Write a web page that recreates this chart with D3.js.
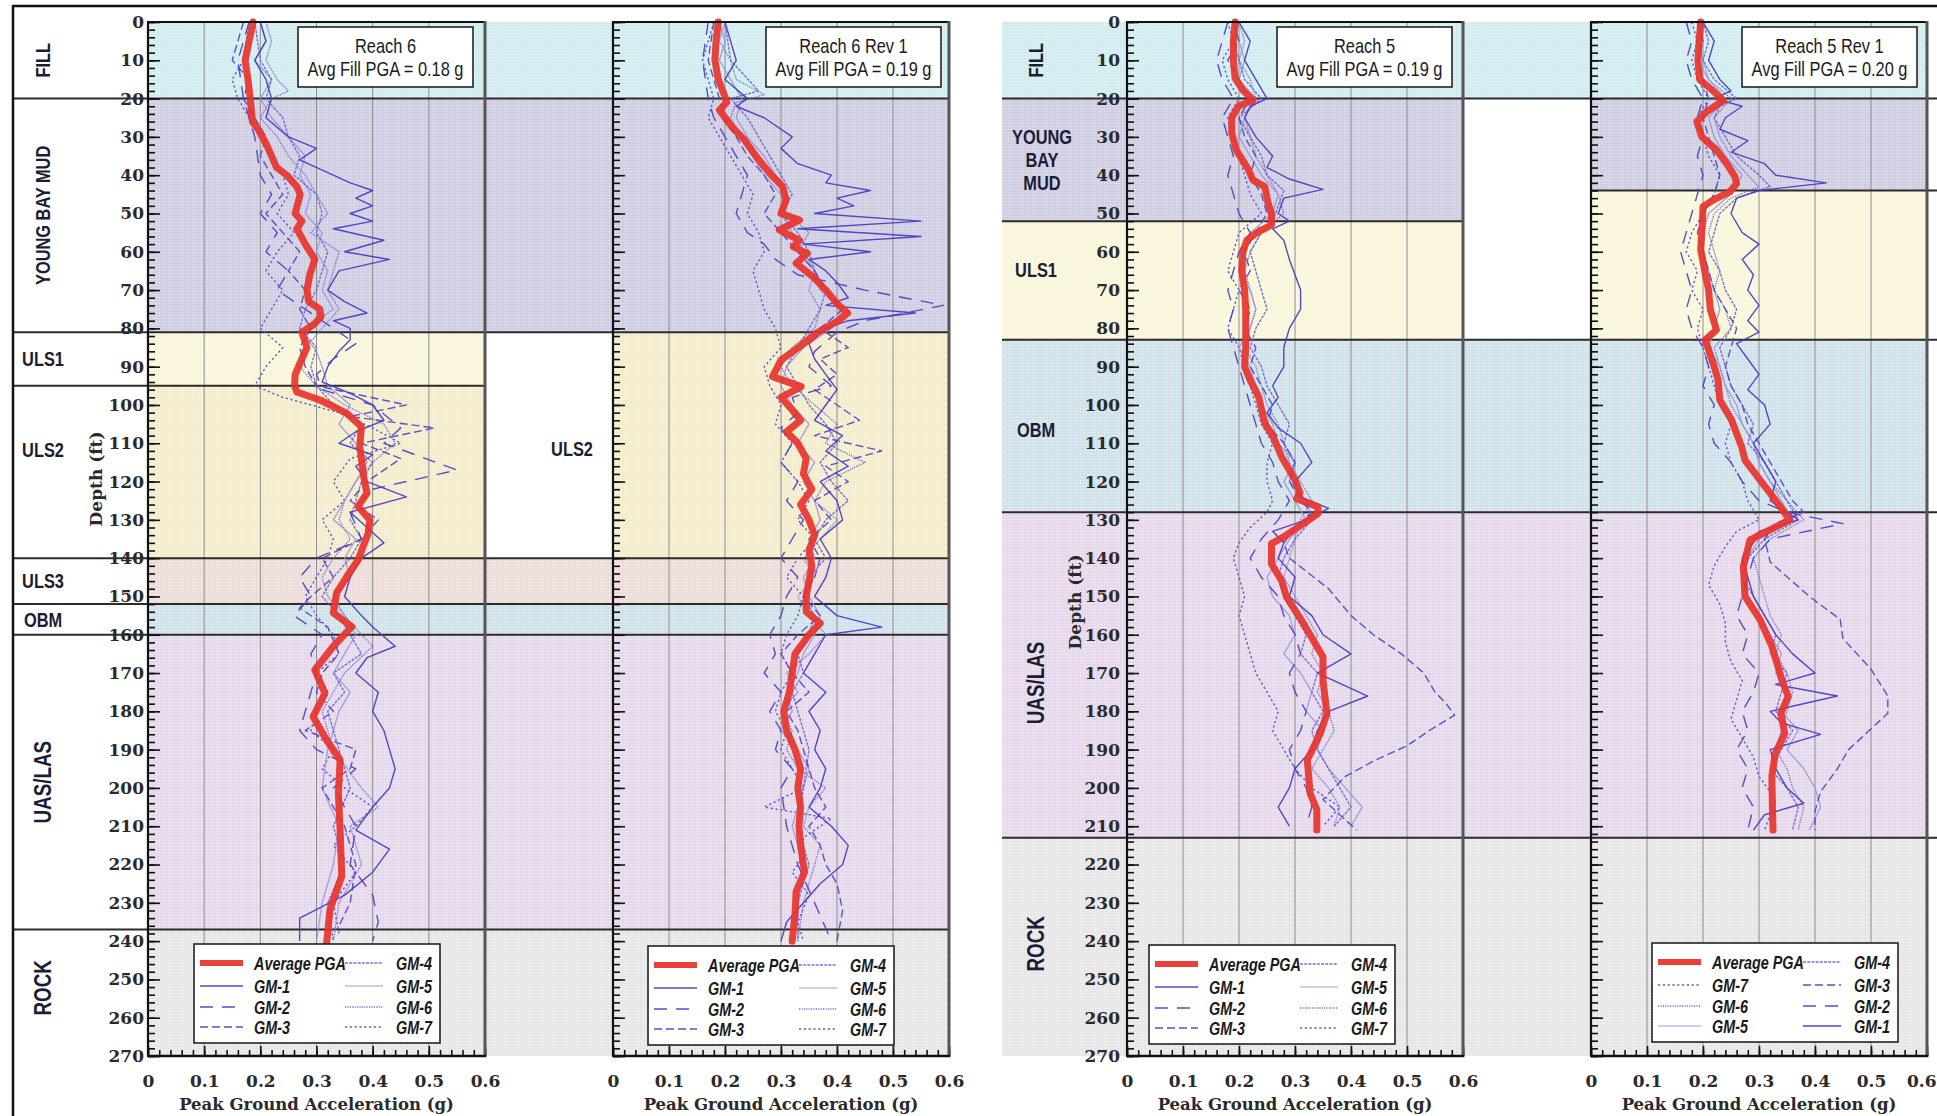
<!DOCTYPE html>
<html>
<head>
<meta charset="utf-8">
<script src="https://cdn.jsdelivr.net/npm/d3@7"></script>
<style>
  html, body { margin: 0; padding: 0; background: #ffffff; }
  svg { display: block; }
</style>
</head>
<body>
<svg id="chart" width="1937" height="1116"></svg>
<script>
// ---------------------------------------------------------------------------
// Data: PGA (g) versus depth (ft), [depth, pga] pairs
// ---------------------------------------------------------------------------
const seriesNames = ['Average PGA', 'GM-1', 'GM-2', 'GM-3', 'GM-4', 'GM-5', 'GM-6', 'GM-7'];
const panelTitles = ['Reach 6', 'Reach 6 Rev 1', 'Reach 5', 'Reach 5 Rev 1'];
const avgFillPga = [0.18, 0.19, 0.19, 0.20];
const depthTicksMajor = d3.range(0, 271, 10);
const depthTicksMinor = d3.range(0, 271, 2);
const pgaTicks = [0, 0.1, 0.2, 0.3, 0.4, 0.5, 0.6];
const pgaTicksMinor = d3.range(0, 0.6001, 0.02);

// Soil layers: [name, top depth, bottom depth]
const reach6Layers = [['FILL', 0, 20], ['YOUNG BAY MUD', 20, 81], ['ULS1', 81, 95], ['ULS2', 95, 140],
  ['ULS3', 140, 152], ['OBM', 152, 160], ['UAS/LAS', 160, 237], ['ROCK', 237, 270]];
const reach6Rev1Layers = [['FILL', 0, 20], ['YOUNG BAY MUD', 20, 81], ['ULS2', 81, 140],
  ['ULS3', 140, 152], ['OBM', 152, 160], ['UAS/LAS', 160, 237], ['ROCK', 237, 270]];
const reach5Layers = [['FILL', 0, 20], ['YOUNG BAY MUD', 20, 52], ['ULS1', 52, 83], ['OBM', 83, 128],
  ['UAS/LAS', 128, 213], ['ROCK', 213, 270]];
const reach5Rev1Layers = [['FILL', 0, 20], ['YOUNG BAY MUD', 20, 44], ['ULS1', 44, 83], ['OBM', 83, 128],
  ['UAS/LAS', 128, 213], ['ROCK', 213, 270]];

// Reach 6
const reach6Avg = [[0,.187],[5,.18],[10,.173],[15,.178],[20,.182],[26,.186],[28,.196],[32,.211],[35,.22],[38,.229],[40,.247],[43,.265],[45,.271],[50,.262],[52,.274],[54,.265],[58,.28],[62,.297],[66,.288],[70,.283],[73,.286],[75,.306],[77,.308],[79,.295],[81,.274],[85,.283],[88,.274],[92,.262],[95,.261],[96.6,.265],[98.7,.306],[100.4,.33],[102.2,.354],[105.7,.38],[110.9,.377],[119.6,.385],[123,.39],[126.5,.374],[130,.395],[133.5,.392],[140.5,.374],[144.8,.354],[149,.336],[154.3,.33],[157.9,.363],[163,.33],[169.2,.297],[175.3,.315],[181.4,.294],[187.5,.318],[192.7,.342],[201.4,.339],[211,.342],[223,.345],[231.8,.324],[240.5,.318]];
const reach6Gm1 = [[0,.2],[5,.21],[10,.19],[15,.21],[20,.22],[25,.21],[30,.25],[33,.3],[36,.27],[40,.33],[42,.36],[44,.4],[46,.37],[48,.4],[50,.36],[52,.4],[54,.33],[57,.42],[60,.35],[62,.43],[65,.34],[70,.32],[73,.35],[76,.39],[78,.33],[80,.36],[83,.36],[86,.34],[90,.32],[94,.31],[97,.36],[100,.4],[104,.42],[107,.37],[110,.34],[113,.4],[116,.37],[120,.39],[124,.46],[128,.36],[132,.39],[136,.42],[140,.38],[145,.36],[150,.35],[155,.38],[158,.4],[163,.44],[166,.39],[170,.37],[175,.41],[180,.4],[185,.42],[190,.43],[195,.44],[200,.43],[205,.4],[211,.37],[216,.43],[222,.4],[228,.35],[234,.27],[240,.27]];
const reach6Gm2 = [[0,.18],[10,.16],[20,.17],[30,.19],[40,.2],[45,.22],[50,.2],[55,.23],[60,.21],[65,.25],[70,.23],[75,.28],[80,.33],[84,.37],[88,.33],[92,.3],[96,.31],[100,.4],[106,.45],[110,.42],[117,.55],[122,.4],[128,.36],[135,.38],[140,.3],[145,.27],[150,.29],[155,.26],[160,.31],[165,.29],[170,.3],[180,.28],[185,.27],[190,.3],[195,.37],[200,.33],[210,.37],[220,.36],[228,.4],[235,.41],[240,.4]];
const reach6Gm3 = [[0,.17],[10,.15],[15,.18],[20,.17],[30,.21],[35,.2],[40,.22],[45,.24],[50,.21],[55,.24],[60,.27],[65,.25],[70,.28],[75,.27],[80,.29],[85,.27],[90,.28],[95,.3],[100,.46],[103,.36],[106,.51],[110,.38],[114,.45],[120,.39],[125,.36],[130,.41],[135,.38],[140,.31],[145,.33],[150,.29],[153,.27],[158,.32],[165,.34],[170,.31],[175,.3],[180,.33],[185,.28],[190,.37],[195,.36],[200,.31],[210,.35],[220,.37],[230,.36],[236,.34]];
const reach6Gm4 = [[0,.19],[10,.2],[15,.22],[20,.21],[25,.24],[30,.25],[35,.27],[40,.26],[45,.3],[50,.31],[55,.3],[60,.32],[65,.31],[70,.3],[75,.28],[80,.27],[85,.3],[90,.29],[95,.3],[100,.33],[105,.38],[110,.36],[115,.4],[120,.38],[125,.37],[130,.36],[135,.38],[140,.36],[145,.33],[150,.31],[155,.34],[160,.36],[165,.38],[170,.33],[175,.35],[180,.32],[190,.34],[200,.36],[210,.33],[220,.35],[230,.32],[240,.33]];
const reach6Gm5 = [[0,.2],[5,.21],[10,.19],[15,.22],[20,.2],[25,.22],[30,.25],[35,.28],[40,.27],[45,.29],[50,.28],[55,.31],[60,.3],[65,.32],[70,.31],[75,.33],[78,.3],[82,.28],[86,.3],[90,.31],[95,.32],[100,.36],[105,.34],[110,.37],[115,.39],[120,.37],[125,.35],[130,.33],[135,.37],[140,.35],[145,.36],[150,.33],[155,.35],[160,.37],[165,.35],[170,.33],[175,.36],[180,.34],[190,.32],[200,.31],[210,.34],[220,.33],[230,.31],[240,.3]];
const reach6Gm6 = [[0,.21],[5,.22],[10,.21],[15,.23],[18,.25],[20,.22],[25,.2],[30,.23],[35,.25],[40,.28],[45,.3],[50,.32],[55,.29],[60,.34],[65,.33],[70,.32],[75,.34],[80,.31],[85,.28],[90,.27],[95,.3],[100,.35],[105,.42],[110,.44],[115,.4],[120,.37],[125,.35],[130,.34],[135,.36],[140,.33],[145,.31],[150,.32],[155,.35],[160,.38],[163,.4],[170,.35],[175,.33],[180,.31],[190,.33],[200,.38],[205,.41],[210,.36],[220,.38],[230,.34],[240,.33]];
const reach6Gm7 = [[0,.18],[10,.17],[15,.15],[20,.16],[25,.18],[30,.2],[35,.22],[40,.24],[45,.25],[50,.23],[55,.26],[60,.23],[65,.21],[70,.24],[75,.22],[80,.2],[85,.24],[90,.21],[95,.19],[98,.24],[102,.34],[106,.4],[110,.45],[114,.36],[120,.33],[125,.35],[130,.31],[135,.33],[140,.32],[145,.3],[150,.28],[155,.3],[160,.33],[165,.34],[170,.3],[175,.32],[180,.3],[185,.29],[190,.33],[195,.31],[200,.35],[205,.4],[210,.37],[215,.33],[222,.37],[230,.33],[238,.34]];

// Reach 6 Rev 1
const reach6Rev1Avg = [[0,.188],[5,.184],[10,.182],[15,.188],[19.5,.2],[21,.203],[23,.19],[27.7,.214],[30.8,.235],[35.2,.256],[39.5,.28],[43,.303],[46.5,.309],[50,.3],[51.7,.333],[54.3,.297],[57,.333],[58.7,.322],[60.4,.347],[63,.327],[66.5,.357],[70,.38],[73.5,.4],[76,.419],[77.8,.404],[81.3,.363],[84.8,.333],[88.3,.3],[92.6,.285],[95.2,.336],[98,.3],[101,.318],[104,.335],[107,.31],[110,.33],[114,.345],[118,.34],[122,.355],[126,.335],[130,.35],[134,.36],[138,.35],[142,.355],[146,.35],[150,.345],[154,.345],[157,.37],[160,.35],[165,.325],[170,.32],[175,.315],[180,.305],[185,.31],[190,.325],[195,.335],[200,.33],[205,.335],[210,.332],[215,.335],[222,.342],[227,.327],[233,.325],[240,.32]];
const reach6Rev1Gm1 = [[0,.2],[5,.21],[10,.22],[15,.2],[20,.24],[22,.22],[25,.27],[30,.32],[33,.3],[37,.33],[40,.39],[42,.38],[44,.46],[46,.4],[48,.43],[50,.36],[52,.55],[54,.33],[56,.55],[58,.34],[60,.46],[62,.35],[65,.38],[68,.4],[72,.42],[74,.38],[76,.54],[78,.42],[80,.38],[84,.35],[88,.36],[92,.38],[96,.4],[100,.38],[104,.36],[108,.41],[112,.38],[116,.42],[120,.37],[125,.4],[130,.41],[135,.37],[140,.39],[145,.38],[150,.36],[155,.4],[158,.48],[160,.38],[165,.36],[170,.34],[175,.38],[180,.35],[185,.37],[190,.36],[195,.38],[200,.37],[205,.35],[210,.39],[215,.42],[220,.41],[225,.37],[230,.34],[235,.31],[240,.3]];
const reach6Rev1Gm2 = [[0,.17],[10,.16],[20,.17],[25,.18],[30,.2],[35,.22],[40,.24],[45,.23],[50,.22],[55,.24],[58,.27],[62,.29],[66,.33],[70,.45],[74,.59],[78,.45],[81,.4],[86,.36],[90,.35],[95,.39],[98,.32],[102,.33],[106,.3],[110,.32],[115,.3],[120,.33],[125,.31],[130,.34],[135,.32],[140,.3],[145,.33],[150,.31],[155,.3],[160,.28],[165,.29],[170,.27],[175,.3],[180,.28],[185,.3],[190,.29],[195,.32],[200,.3],[210,.31],[220,.33],[230,.36],[240,.39]];
const reach6Rev1Gm3 = [[0,.18],[10,.17],[20,.19],[25,.2],[30,.22],[35,.24],[40,.27],[45,.29],[50,.27],[55,.3],[60,.33],[65,.36],[70,.38],[75,.41],[80,.37],[85,.42],[88,.37],[92,.4],[96,.36],[100,.4],[104,.44],[108,.36],[112,.48],[116,.38],[120,.42],[125,.36],[130,.39],[135,.35],[140,.37],[145,.36],[150,.34],[155,.37],[160,.33],[165,.3],[170,.32],[175,.35],[180,.31],[185,.33],[190,.34],[200,.36],[205,.38],[210,.35],[215,.37],[220,.38],[225,.4],[232,.41],[240,.4]];
const reach6Rev1Gm4 = [[0,.2],[10,.21],[18,.26],[20,.21],[25,.24],[30,.26],[35,.28],[40,.3],[45,.32],[50,.3],[55,.33],[60,.35],[65,.36],[70,.38],[75,.37],[80,.35],[85,.33],[90,.31],[95,.33],[100,.35],[105,.38],[110,.4],[115,.37],[120,.39],[125,.42],[130,.38],[135,.36],[140,.38],[145,.35],[150,.34],[155,.36],[160,.35],[165,.33],[170,.34],[175,.32],[180,.33],[190,.35],[200,.34],[210,.33],[220,.35],[230,.33],[240,.33]];
const reach6Rev1Gm5 = [[0,.19],[5,.2],[10,.19],[15,.21],[20,.23],[25,.22],[30,.24],[35,.27],[40,.29],[45,.31],[50,.3],[55,.32],[60,.34],[65,.36],[70,.37],[75,.41],[80,.39],[85,.34],[90,.31],[95,.3],[100,.32],[105,.35],[110,.33],[115,.36],[120,.34],[125,.36],[130,.37],[135,.35],[140,.36],[145,.34],[150,.35],[155,.37],[160,.36],[165,.34],[170,.33],[175,.31],[180,.32],[185,.3],[190,.33],[195,.35],[200,.34],[210,.32],[220,.34],[230,.33],[240,.32]];
const reach6Rev1Gm6 = [[0,.2],[5,.19],[10,.21],[15,.22],[19,.27],[21,.22],[25,.21],[30,.23],[35,.25],[40,.27],[45,.3],[50,.31],[55,.35],[60,.33],[65,.36],[70,.35],[75,.37],[80,.36],[85,.32],[90,.3],[95,.32],[100,.36],[105,.4],[110,.38],[115,.45],[120,.38],[125,.36],[130,.4],[135,.37],[140,.34],[145,.36],[150,.33],[155,.35],[160,.38],[165,.35],[170,.31],[175,.33],[180,.3],[185,.32],[190,.31],[195,.33],[200,.38],[205,.35],[210,.34],[215,.37],[220,.36],[230,.34],[240,.33]];
const reach6Rev1Gm7 = [[0,.18],[5,.17],[10,.16],[15,.17],[20,.18],[25,.17],[30,.19],[35,.21],[40,.23],[45,.25],[50,.24],[55,.26],[60,.27],[65,.25],[70,.26],[75,.27],[80,.29],[85,.3],[90,.27],[95,.28],[100,.3],[105,.29],[110,.32],[115,.3],[120,.33],[125,.35],[130,.33],[135,.36],[140,.33],[145,.31],[150,.34],[155,.33],[160,.31],[165,.3],[170,.32],[175,.3],[180,.29],[185,.31],[190,.3],[195,.32],[200,.34],[205,.27],[208,.39],[213,.34],[218,.34],[222,.32],[228,.35],[235,.33],[240,.34]];

// Reach 5
const reach5Avg = [[0,.193],[5,.19],[10,.19],[14.7,.193],[17.8,.207],[20.4,.225],[22,.199],[25,.187],[29,.187],[33.4,.195],[38.6,.217],[41.3,.225],[43,.246],[47.3,.252],[50,.258],[53,.258],[55,.232],[57,.214],[60,.207],[65,.205],[70,.21],[75,.212],[80,.212],[85,.212],[90,.21],[93.5,.22],[97.8,.235],[104.8,.246],[108.3,.261],[113.5,.276],[119.6,.3],[123,.309],[124.5,.303],[126.6,.341],[128.4,.341],[131,.315],[134.5,.279],[136.2,.258],[141.5,.258],[145.8,.276],[150.2,.285],[156.3,.312],[162.3,.336],[165.8,.35],[171.9,.35],[180.6,.357],[185.8,.345],[192.7,.322],[201.4,.327],[205.7,.339],[211,.339]];
const reach5Gm1 = [[0,.2],[5,.22],[10,.21],[15,.23],[20,.25],[22,.22],[25,.21],[30,.23],[35,.26],[38,.25],[41,.29],[43.7,.35],[46,.28],[50,.27],[52,.29],[54,.26],[57,.28],[62,.29],[66,.3],[70,.31],[75,.31],[80,.29],[85,.28],[90,.28],[95,.26],[98,.27],[102,.25],[106,.27],[110,.31],[115,.33],[120,.3],[124,.31],[127,.36],[130,.32],[133,.26],[136,.28],[140,.27],[145,.3],[150,.29],[155,.33],[160,.35],[165,.4],[170,.34],[176,.43],[180,.36],[185,.34],[190,.33],[195,.3],[200,.29],[205,.27],[210,.29]];
const reach5Gm2 = [[0,.18],[5,.17],[10,.16],[15,.17],[20,.19],[25,.17],[30,.18],[35,.19],[40,.18],[45,.19],[50,.2],[55,.22],[60,.2],[65,.19],[70,.18],[75,.19],[80,.18],[85,.19],[90,.2],[95,.21],[100,.22],[105,.23],[110,.24],[115,.26],[120,.27],[125,.29],[130,.27],[135,.24],[140,.22],[145,.24],[150,.27],[155,.28],[160,.3],[165,.31],[170,.29],[175,.3],[180,.32],[185,.31],[190,.29],[195,.3],[200,.32],[205,.33],[210,.32]];
const reach5Gm3 = [[0,.19],[5,.2],[10,.18],[15,.2],[20,.22],[25,.2],[30,.21],[35,.23],[40,.22],[45,.24],[50,.25],[55,.23],[60,.21],[65,.22],[70,.2],[75,.22],[80,.21],[85,.23],[90,.22],[95,.24],[100,.26],[105,.25],[110,.28],[115,.3],[120,.29],[125,.31],[128,.33],[132,.3],[136,.28],[140,.29],[148,.36],[155,.4],[160,.44],[165,.49],[170,.53],[175,.55],[178,.57],[181,.585],[185,.54],[189,.5],[193,.44],[197,.39],[200,.37],[203,.35],[207,.38],[211,.41]];
const reach5Gm4 = [[0,.2],[5,.19],[10,.2],[15,.21],[20,.24],[25,.2],[30,.22],[35,.24],[40,.25],[44,.28],[48,.27],[52,.26],[55,.24],[60,.22],[65,.23],[70,.24],[75,.25],[80,.23],[85,.22],[90,.24],[95,.25],[100,.27],[105,.29],[110,.28],[115,.3],[120,.29],[125,.32],[130,.33],[135,.3],[140,.28],[145,.27],[150,.28],[155,.3],[160,.32],[165,.31],[170,.34],[175,.33],[180,.35],[185,.33],[190,.34],[195,.36],[200,.38],[205,.4],[210,.37]];
const reach5Gm5 = [[0,.19],[5,.2],[10,.21],[15,.2],[20,.23],[25,.21],[30,.2],[35,.22],[40,.24],[45,.27],[50,.26],[55,.22],[60,.21],[65,.2],[70,.22],[75,.23],[80,.22],[85,.2],[90,.22],[95,.23],[100,.24],[105,.26],[110,.27],[115,.3],[120,.28],[125,.3],[130,.32],[135,.29],[140,.27],[145,.25],[150,.26],[155,.29],[160,.3],[165,.28],[170,.31],[175,.33],[180,.32],[185,.35],[190,.34],[195,.36],[200,.39],[205,.42],[210,.4]];
const reach5Gm6 = [[0,.2],[5,.21],[10,.2],[15,.22],[20,.23],[25,.21],[30,.22],[35,.23],[40,.25],[45,.27],[50,.28],[55,.24],[60,.22],[65,.21],[70,.22],[75,.23],[80,.22],[85,.21],[90,.23],[95,.24],[100,.25],[105,.27],[110,.28],[115,.29],[120,.31],[125,.33],[130,.31],[135,.3],[140,.29],[145,.28],[150,.3],[155,.32],[160,.34],[165,.33],[170,.35],[175,.34],[180,.36],[185,.37],[190,.35],[195,.33],[200,.36],[205,.38],[210,.37]];
const reach5Gm7 = [[0,.18],[5,.19],[10,.17],[15,.18],[20,.2],[25,.18],[30,.19],[35,.2],[40,.21],[45,.22],[50,.24],[55,.2],[60,.19],[65,.18],[70,.2],[75,.19],[80,.18],[85,.2],[90,.21],[95,.22],[100,.23],[105,.24],[110,.26],[115,.25],[120,.25],[125,.26],[128,.25],[132,.22],[136,.2],[140,.19],[145,.2],[150,.21],[155,.2],[160,.21],[165,.22],[170,.23],[175,.25],[180,.27],[185,.26],[190,.28],[195,.3],[200,.33],[205,.38],[210,.35]];

// Reach 5 Rev 1
const reach5Rev1Avg = [[0,.196],[5,.193],[10,.191],[15,.194],[18,.218],[20.5,.236],[23.4,.207],[26,.189],[30,.198],[33.4,.224],[36.9,.242],[40.4,.257],[42.2,.26],[44.3,.248],[46.5,.218],[48.2,.2],[52,.199],[59.5,.196],[65,.203],[70,.21],[75,.213],[80.4,.224],[83,.204],[85.6,.21],[90,.22],[93.5,.227],[98.7,.23],[103.9,.251],[110.9,.269],[114.4,.275],[119.6,.302],[124.8,.329],[130,.355],[135.2,.284],[142.2,.272],[150,.275],[156.1,.302],[163,.323],[171.8,.341],[176.1,.352],[180.5,.339],[185.8,.346],[191,.329],[197,.323],[205,.324],[211,.325]];
const reach5Rev1Gm1 = [[0,.2],[5,.22],[10,.21],[15,.23],[18,.25],[20,.22],[22,.27],[25,.24],[28,.23],[31,.28],[34,.25],[37,.31],[40,.33],[42,.42],[44,.3],[46,.26],[50,.25],[55,.27],[58,.3],[62,.27],[66,.29],[70,.28],[74,.3],[78,.28],[81,.3],[84,.26],[88,.28],[92,.3],[96,.28],[100,.31],[105,.32],[110,.29],[115,.31],[120,.33],[125,.32],[130,.37],[133,.3],[136,.29],[140,.27],[145,.28],[150,.29],[155,.31],[160,.33],[165,.36],[170,.4],[173,.33],[176,.44],[180,.32],[183,.34],[186,.41],[190,.32],[195,.33],[200,.35],[204,.38],[207,.31],[211,.29]];
const reach5Rev1Gm2 = [[0,.17],[5,.18],[10,.17],[15,.18],[20,.2],[25,.19],[30,.2],[35,.19],[40,.2],[45,.19],[50,.18],[55,.17],[60,.16],[65,.17],[70,.18],[75,.17],[80,.18],[85,.2],[90,.21],[95,.2],[100,.22],[105,.21],[110,.22],[115,.25],[120,.27],[125,.3],[128,.35],[131,.45],[135,.32],[140,.29],[145,.28],[150,.27],[155,.26],[160,.28],[165,.27],[170,.3],[175,.29],[180,.27],[185,.28],[190,.26],[195,.28],[200,.27],[205,.29],[211,.28]];
const reach5Rev1Gm3 = [[0,.19],[5,.2],[10,.19],[15,.2],[20,.21],[25,.2],[30,.21],[35,.22],[40,.23],[45,.22],[50,.2],[55,.19],[60,.2],[65,.21],[70,.22],[75,.24],[80,.26],[85,.25],[90,.24],[95,.25],[100,.27],[105,.28],[110,.3],[115,.32],[120,.34],[125,.36],[128,.38],[131,.33],[135,.31],[141,.32],[150,.39],[156,.445],[161,.45],[169,.5],[176,.53],[180.5,.53],[190,.46],[195,.44],[201,.41],[206,.4],[211,.4]];
const reach5Rev1Gm4 = [[0,.2],[5,.21],[10,.2],[15,.22],[20,.26],[22,.23],[25,.22],[30,.24],[35,.26],[40,.3],[43,.32],[46,.26],[50,.23],[55,.22],[60,.21],[65,.23],[70,.24],[75,.26],[80,.25],[85,.23],[90,.24],[95,.25],[100,.27],[105,.29],[110,.28],[115,.31],[120,.33],[125,.35],[130,.37],[135,.31],[140,.28],[145,.27],[150,.29],[155,.31],[160,.33],[165,.32],[170,.35],[175,.34],[180,.33],[185,.36],[190,.34],[195,.32],[200,.35],[205,.37],[211,.36]];
const reach5Rev1Gm5 = [[0,.19],[5,.2],[10,.19],[15,.21],[20,.24],[25,.21],[30,.22],[35,.24],[40,.27],[45,.25],[50,.21],[55,.2],[60,.2],[65,.21],[70,.22],[75,.23],[80,.22],[85,.21],[90,.23],[95,.24],[100,.26],[105,.27],[110,.29],[115,.3],[120,.32],[125,.34],[130,.36],[135,.3],[140,.28],[145,.27],[150,.28],[155,.3],[160,.32],[165,.34],[170,.33],[175,.35],[180,.34],[185,.37],[190,.35],[195,.38],[200,.4],[205,.41],[211,.39]];
const reach5Rev1Gm6 = [[0,.2],[5,.19],[10,.2],[15,.21],[20,.25],[25,.22],[30,.23],[35,.25],[40,.28],[43,.3],[46,.25],[50,.22],[55,.21],[60,.22],[65,.23],[70,.22],[75,.24],[80,.25],[85,.22],[90,.23],[95,.24],[100,.25],[105,.27],[110,.29],[115,.3],[120,.32],[125,.35],[130,.38],[135,.32],[140,.29],[145,.3],[150,.31],[155,.32],[160,.34],[165,.33],[170,.35],[175,.36],[180,.35],[185,.34],[190,.33],[195,.35],[200,.36],[205,.38],[211,.37]];
const reach5Rev1Gm7 = [[0,.18],[5,.19],[10,.18],[15,.19],[20,.21],[25,.19],[30,.2],[35,.21],[40,.23],[45,.22],[50,.2],[55,.18],[60,.17],[65,.19],[70,.18],[75,.2],[80,.19],[85,.2],[90,.21],[95,.22],[100,.23],[105,.25],[110,.24],[115,.25],[120,.27],[125,.28],[130,.3],[133,.26],[137,.24],[142,.22],[147,.21],[152,.23],[157,.24],[162,.24],[167,.25],[172,.27],[177,.26],[182,.25],[187,.27],[192,.29],[197,.3],[203,.33],[207,.32],[211,.31]];

// ---------------------------------------------------------------------------
// Styling and layout
// ---------------------------------------------------------------------------
const layerColors = {
  'FILL': '#d4eef1',
  'YOUNG BAY MUD': '#d2d0e5',
  'ULS1': '#fbf8dd',
  'ULS2': '#f6eecf',
  'ULS3': '#eedfdb',
  'OBM': '#d3e4ec',
  'UAS/LAS': '#e8dbee',
  'ROCK': '#e9e9e9'
};

const seriesStyle = {
  'Average PGA': { stroke: '#e8332b', width: 7, dash: null, opacity: 0.92 },
  'GM-1': { stroke: '#4a3fc1', width: 1.4, dash: null, opacity: 0.95 },
  'GM-2': { stroke: '#4e45c4', width: 1.4, dash: '13,9', opacity: 0.95 },
  'GM-3': { stroke: '#534ac6', width: 1.4, dash: '8,4', opacity: 0.95 },
  'GM-4': { stroke: '#6c64d0', width: 1.4, dash: '3,1.2', opacity: 0.9 },
  'GM-5': { stroke: '#9a94de', width: 1.3, dash: null, opacity: 0.9 },
  'GM-6': { stroke: '#6a62cf', width: 1.4, dash: '1.2,1.2', opacity: 0.9 },
  'GM-7': { stroke: '#5a51c9', width: 1.4, dash: '2.2,2.6', opacity: 0.95 }
};

const yTop = 22, yBottom = 1056;
const depth = d3.scaleLinear().domain([0, 270]).range([yTop, yBottom]);

const panels = [
  { x0: 148, x1: 485, series: [reach6Avg, reach6Gm1, reach6Gm2, reach6Gm3, reach6Gm4, reach6Gm5, reach6Gm6, reach6Gm7],
    box: { x: 298, y: 27 }, legend: { x: 194, y: 944 }, depthLabels: 4, depthTitle: [96, 479],
    legendCols: [[0, 1, 2, 3], [4, 5, 6, 7]] },
  { x0: 613, x1: 949, series: [reach6Rev1Avg, reach6Rev1Gm1, reach6Rev1Gm2, reach6Rev1Gm3, reach6Rev1Gm4, reach6Rev1Gm5, reach6Rev1Gm6, reach6Rev1Gm7],
    box: { x: 766, y: 27 }, legend: { x: 648, y: 946 }, depthLabels: null,
    legendCols: [[0, 1, 2, 3], [4, 5, 6, 7]] },
  { x0: 1127, x1: 1463, series: [reach5Avg, reach5Gm1, reach5Gm2, reach5Gm3, reach5Gm4, reach5Gm5, reach5Gm6, reach5Gm7],
    box: { x: 1277, y: 27 }, legend: { x: 1149, y: 945 }, depthLabels: 7, depthTitle: [1075, 602],
    legendCols: [[0, 1, 2, 3], [4, 5, 6, 7]] },
  { x0: 1591, x1: 1927, series: [reach5Rev1Avg, reach5Rev1Gm1, reach5Rev1Gm2, reach5Rev1Gm3, reach5Rev1Gm4, reach5Rev1Gm5, reach5Rev1Gm6, reach5Rev1Gm7],
    box: { x: 1742, y: 27 }, legend: { x: 1652, y: 943 }, depthLabels: null, lastLabelEnd: true,
    legendCols: [[0, 7, 6, 5], [4, 3, 2, 1]] }
];

// Layers shared by two neighbouring profiles (used for the gap between them)
function commonLayers(a, b) {
  return a.filter(la => b.some(lb => lb[0] === la[0] && lb[1] === la[1] && lb[2] === la[2]));
}

// Regions that carry the soil colour bands and their boundary lines
const bandRegions = [
  { x0: 13, x1: 148, layers: reach6Layers, filled: false },
  { x0: 148, x1: 485, layers: reach6Layers, filled: true },
  { x0: 485, x1: 613, layers: commonLayers(reach6Layers, reach6Rev1Layers), filled: true },
  { x0: 613, x1: 949, layers: reach6Rev1Layers, filled: true },
  { x0: 1002, x1: 1127, layers: reach5Layers, filled: true },
  { x0: 1127, x1: 1463, layers: reach5Layers, filled: true },
  { x0: 1463, x1: 1591, layers: commonLayers(reach5Layers, reach5Rev1Layers), filled: true },
  { x0: 1591, x1: 1937, layers: reach5Rev1Layers, filled: true, fillTo: 1927 }
];

// ---------------------------------------------------------------------------
const svg = d3.select('#chart');
const defs = svg.append('defs');

// Fine stippled texture on every soil band
Object.entries(layerColors).forEach(([name, color], i) => {
  layerColors[name] = { color, id: 'tex' + i };
  const p = defs.append('pattern').attr('id', 'tex' + i)
    .attr('width', 3).attr('height', 3).attr('patternUnits', 'userSpaceOnUse');
  p.append('rect').attr('width', 3).attr('height', 3).attr('fill', color);
  p.append('rect').attr('x', 0).attr('y', 0).attr('width', 1).attr('height', 1)
    .attr('fill', '#ffffff').attr('opacity', 0.5);
  p.append('rect').attr('x', 1.5).attr('y', 1.5).attr('width', 1).attr('height', 1)
    .attr('fill', '#000000').attr('opacity', 0.035);
});

const bandG = svg.append('g');
bandRegions.filter(r => r.filled).forEach(r => {
  bandG.selectAll(null).data(r.layers).enter().append('rect')
    .attr('x', r.x0).attr('width', (r.fillTo || r.x1) - r.x0)
    .attr('y', d => depth(d[1])).attr('height', d => depth(d[2]) - depth(d[1]))
    .attr('fill', d => `url(#${layerColors[d[0]].id})`);
});

// Vertical gridlines
const gridG = svg.append('g');
panels.forEach(p => {
  const x = d3.scaleLinear().domain([0, 0.6]).range([p.x0, p.x1]);
  gridG.selectAll(null).data(pgaTicks.slice(1, -1)).enter().append('line')
    .attr('x1', d => x(d)).attr('x2', d => x(d))
    .attr('y1', yTop).attr('y2', yBottom)
    .attr('stroke', '#8d8d8d').attr('stroke-width', 1);
});

// Layer boundary lines
const boundG = svg.append('g');
bandRegions.forEach(r => {
  const edges = Array.from(new Set(r.layers.flatMap(l => [l[1], l[2]])))
    .filter(d => d > 0 && d < 270);
  boundG.selectAll(null).data(edges).enter().append('line')
    .attr('x1', r.x0).attr('x2', r.x1)
    .attr('y1', d => depth(d)).attr('y2', d => depth(d))
    .attr('stroke', '#2b2b2b').attr('stroke-width', 2);
});

// Narrow sans text (condensed by horizontal scaling)
function narrowText(sel, x, y, txt, o) {
  return sel.append('text')
    .attr('transform', `translate(${x},${y})` + (o.rotate ? ' rotate(-90)' : '') + ` scale(${o.squeeze || 0.82},1)`)
    .attr('text-anchor', o.anchor || 'middle')
    .attr('dominant-baseline', o.baseline || 'auto')
    .attr('font-family', "'Liberation Sans', Arial, sans-serif")
    .attr('font-size', o.size)
    .attr('font-weight', o.weight || 'normal')
    .attr('font-style', o.style || 'normal')
    .attr('fill', o.fill || '#111111')
    .text(txt);
}

// Layer names
const labelG = svg.append('g');
const bigLabels = new Set(['UAS/LAS', 'ROCK']);
const rotatedLabels = new Set(['FILL', 'UAS/LAS', 'ROCK']);
function drawLayerNames(layers, cx, stackBayMud, shifts) {
  layers.forEach(l => {
    const name = l[0];
    const cy = depth((l[1] + l[2]) / 2) + (shifts[name] || 0);
    const size = bigLabels.has(name) ? 23 : 20;
    if (name === 'YOUNG BAY MUD' && stackBayMud) {
      ['YOUNG', 'BAY', 'MUD'].forEach((w, i) => narrowText(labelG, cx + 6, cy - 23 + i * 23, w,
        { size: 20, weight: 'bold', baseline: 'central', fill: '#1c1c34' }));
    } else {
      const rot = rotatedLabels.has(name) || (name === 'YOUNG BAY MUD');
      narrowText(labelG, cx, cy, name, { size, weight: 'bold', rotate: rot, baseline: 'central', fill: '#1c1c34' });
    }
  });
}
drawLayerNames(reach6Layers, 43, false, { 'ULS2': -22, 'ROCK': -5 });
drawLayerNames(reach5Layers, 1036, true, { 'ULS1': -11, 'OBM': 4, 'UAS/LAS': 8, 'ROCK': -3 });
narrowText(labelG, 572, 449, 'ULS2', { size: 20, weight: 'bold', baseline: 'central', fill: '#1c1c34' });

// Profiles
const serifFont = "'DejaVu Serif', 'Liberation Serif', serif";
panels.forEach((p, pi) => {
  const x = d3.scaleLinear().domain([0, 0.6]).range([p.x0, p.x1]);
  const g = svg.append('g');
  const line = d3.line().x(d => x(d[1])).y(d => depth(d[0]));

  // ground-motion profiles, then the average on top
  for (let s = 7; s >= 0; s--) {
    const st = seriesStyle[seriesNames[s]];
    g.append('path').datum(p.series[s]).attr('d', line)
      .attr('fill', 'none').attr('stroke', st.stroke).attr('stroke-width', st.width)
      .attr('stroke-dasharray', st.dash).attr('opacity', st.opacity)
      .attr('stroke-linejoin', 'round').attr('stroke-linecap', s === 0 ? 'round' : 'butt');
  }

  // axes
  const axG = svg.append('g');
  const yMinor = d3.axisLeft(depth).tickValues(depthTicksMinor).tickSize(-7).tickFormat('');
  const yMajor = d3.axisLeft(depth).tickValues(depthTicksMajor).tickSize(-12)
    .tickPadding(p.depthLabels || 0).tickFormat(p.depthLabels ? d3.format('d') : '');
  [yMinor, yMajor].forEach(ax => {
    const a = axG.append('g').attr('transform', `translate(${p.x0},0)`).call(ax);
    a.select('.domain').remove();
    a.selectAll('.tick line').attr('stroke', '#111').attr('stroke-width', 1.6);
    a.selectAll('.tick text').attr('font-family', serifFont).attr('font-weight', 'bold')
      .attr('font-size', 17).attr('fill', '#2a2a2a');
  });
  const xMinor = d3.axisBottom(x).tickValues(pgaTicksMinor).tickSize(-6).tickFormat('');
  const xMajor = d3.axisBottom(x).tickValues(pgaTicks).tickSize(-10).tickPadding(19)
    .tickFormat(d => d === 0 ? '0' : d3.format('.1f')(d));
  [xMinor, xMajor].forEach(ax => {
    const a = axG.append('g').attr('transform', `translate(0,${yBottom})`).call(ax);
    a.select('.domain').remove();
    a.selectAll('.tick line').attr('stroke', '#111').attr('stroke-width', 1.6);
    a.selectAll('.tick text').attr('font-family', serifFont).attr('font-weight', 'bold')
      .attr('font-size', 17).attr('fill', '#2a2a2a');
    if (p.lastLabelEnd) {
      a.selectAll('.tick text').filter(d => d === 0.6).attr('text-anchor', 'end').attr('x', 9);
    }
  });

  // plot frame
  axG.append('line').attr('x1', p.x0).attr('x2', p.x1).attr('y1', yTop).attr('y2', yTop)
    .attr('stroke', '#111').attr('stroke-width', 2);
  axG.append('line').attr('x1', p.x1).attr('x2', p.x1).attr('y1', yTop - 1).attr('y2', yBottom + 1)
    .attr('stroke', '#555').attr('stroke-width', 3);
  axG.append('line').attr('x1', p.x0).attr('x2', p.x0).attr('y1', yTop - 1).attr('y2', yBottom + 1)
    .attr('stroke', '#111').attr('stroke-width', 2.2);
  axG.append('line').attr('x1', p.x0).attr('x2', p.x1 + 1).attr('y1', yBottom).attr('y2', yBottom)
    .attr('stroke', '#111').attr('stroke-width', 2.6);

  // axis titles
  axG.append('text').attr('x', (p.x0 + p.x1) / 2).attr('y', 1110)
    .attr('text-anchor', 'middle').attr('font-family', serifFont).attr('font-weight', 'bold')
    .attr('font-size', 16.5).attr('fill', '#2a2a2a').text('Peak Ground Acceleration (g)');
  if (p.depthTitle) {
    axG.append('text').attr('transform', `translate(${p.depthTitle[0]},${p.depthTitle[1]}) rotate(-90)`)
      .attr('text-anchor', 'middle').attr('dominant-baseline', 'central')
      .attr('font-family', serifFont).attr('font-weight', 'bold')
      .attr('font-size', 17).attr('fill', '#2a2a2a').text('Depth (ft)');
  }

  // title box
  const bw = 175, bh = 60;
  axG.append('rect').attr('x', p.box.x).attr('y', p.box.y).attr('width', bw).attr('height', bh)
    .attr('fill', '#ffffff').attr('stroke', '#222').attr('stroke-width', 1.6);
  narrowText(axG, p.box.x + bw / 2, p.box.y + 26, panelTitles[pi], { size: 20, fill: '#1a1a1a' });
  narrowText(axG, p.box.x + bw / 2, p.box.y + 49, `Avg Fill PGA = ${avgFillPga[pi].toFixed(2)} g`, { size: 20, fill: '#1a1a1a' });

  // legend
  const lg = axG.append('g').attr('transform', `translate(${p.legend.x},${p.legend.y})`);
  lg.append('rect').attr('width', 246).attr('height', 99)
    .attr('fill', '#ffffff').attr('stroke', '#222').attr('stroke-width', 1.6);
  const rowY = [19, 42, 63, 83];
  const cols = [{ s0: 6, s1: 49, tx: 60 }, { s0: 151, s1: 189, tx: 202 }];
  p.legendCols.forEach((col, ci) => {
    col.forEach((si, ri) => {
      const st = seriesStyle[seriesNames[si]];
      lg.append('line').attr('x1', cols[ci].s0).attr('x2', cols[ci].s1)
        .attr('y1', rowY[ri]).attr('y2', rowY[ri])
        .attr('stroke', si === 5 ? '#b9b5e6' : st.stroke).attr('stroke-width', si === 0 ? 6 : st.width)
        .attr('stroke-dasharray', st.dash).attr('opacity', st.opacity);
      narrowText(lg, cols[ci].tx, rowY[ri] + 6.5, seriesNames[si],
        { size: 18, style: 'italic', weight: 'bold', anchor: 'start', fill: '#1a1a1a', squeeze: 0.8 });
    });
  });
});

// Outer frame
svg.append('line').attr('x1', 12).attr('x2', 1937).attr('y1', 6).attr('y2', 6)
  .attr('stroke', '#111').attr('stroke-width', 2.5);
svg.append('line').attr('x1', 13).attr('x2', 13).attr('y1', 5).attr('y2', 1116)
  .attr('stroke', '#111').attr('stroke-width', 2.5);
</script>
</body>
</html>
